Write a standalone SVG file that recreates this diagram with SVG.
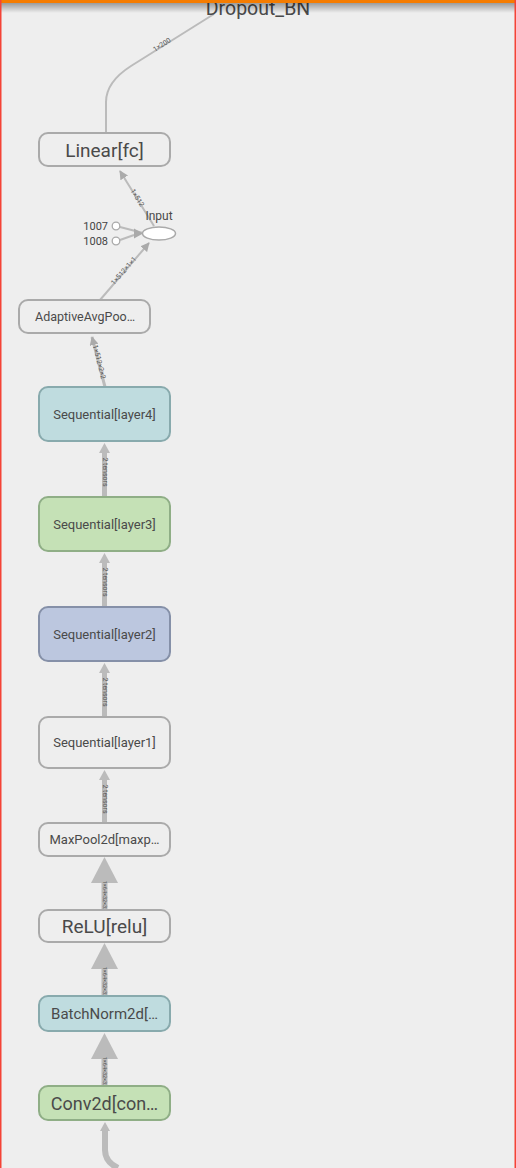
<svg xmlns="http://www.w3.org/2000/svg" width="516" height="1168" viewBox="0 0 516 1168">
<defs>
<style>
.bg{fill:#eeeeee}
.node{stroke-width:2}
.plain{fill:#eeeeee;stroke:#aaaaaa}
.teal{fill:#bfdcdf;stroke:#88aaad}
.green{fill:#c5e1b6;stroke:#8fae86}
.blue{fill:#bcc7df;stroke:#8590a8}
.t{font-family:Roboto,"Liberation Sans",sans-serif;fill:#4a4a4a;text-anchor:middle}
.el{font-family:Roboto,"Liberation Sans",sans-serif;fill:#555;font-size:7px;text-anchor:middle;dominant-baseline:central}
.els{font-size:5.5px}
.thin{fill:none;stroke:#bbbbbb;stroke-width:2}
.mid{fill:none;stroke:#bbbbbb;stroke-width:5}
.thick{fill:none;stroke:#bbbbbb;stroke-width:6}
.head{fill:#bbbbbb}
</style>
<linearGradient id="sh" x1="0" y1="0" x2="0" y2="1">
<stop offset="0" stop-color="#000" stop-opacity="0.35"/>
<stop offset="1" stop-color="#000" stop-opacity="0"/>
</linearGradient>
<marker id="ah" viewBox="0 0 10 10" refX="9" refY="5" markerWidth="9" markerHeight="9" markerUnits="userSpaceOnUse" orient="auto">
<path d="M0,0 L10,5 L0,10 z" fill="#aaaaaa"/>
</marker>
</defs>
<rect class="bg" x="0" y="0" width="516" height="1168"/>

<g id="connectors">
<path class="thin" d="M214,14 L131,66 Q106,82 106,102 L106,133"/>
<text class="el" transform="translate(162,45) rotate(-33)">1×200</text>
<path class="thin" d="M154,226 L120,171" marker-end="url(#ah)"/>
<text class="el" transform="translate(137,198) rotate(58)">1×512</text>
<path class="thin" d="M120,227 L143,233"/>
<path class="thin" d="M120,240 L134,235"/>
<path d="M134,228.5 L143,233.5 L134,238.5 z" fill="#aaaaaa"/>
<path class="thin" d="M100,300 L149,243" marker-end="url(#ah)"/>
<text class="el" transform="translate(124,271) rotate(-49)">1×512×1×1</text>
<path class="thin" d="M105,387 L92,337" marker-end="url(#ah)" style="stroke-width:3"/>
<text class="el" transform="translate(99,362) rotate(76)">1×512×2×2</text>
<path class="mid" d="M104.5,497 L104.5,452"/>
<path class="head" d="M99,453 L104.5,443 L110,453 z"/>
<text class="el" transform="translate(104.5,472) rotate(90)">2 tensors</text>
<path class="mid" d="M104.5,607 L104.5,562"/>
<path class="head" d="M99,563 L104.5,553 L110,563 z"/>
<text class="el" transform="translate(104.5,582) rotate(90)">2 tensors</text>
<path class="mid" d="M104.5,717 L104.5,672"/>
<path class="head" d="M99,673 L104.5,663 L110,673 z"/>
<text class="el" transform="translate(104.5,692) rotate(90)">2 tensors</text>
<path class="mid" d="M104.5,823 L104.5,779"/>
<path class="head" d="M99,780 L104.5,770 L110,780 z"/>
<text class="el" transform="translate(104.5,799) rotate(90)">2 tensors</text>
<path class="thick" d="M104.5,910 L104.5,880"/>
<path class="head" d="M91,883 L104.5,857 L118,883 z"/>
<text class="el els" transform="translate(104.5,896) rotate(90)">1×64×32×32</text>
<path class="thick" d="M104.5,996 L104.5,966"/>
<path class="head" d="M91,969 L104.5,943 L118,969 z"/>
<text class="el els" transform="translate(104.5,982) rotate(90)">1×64×32×32</text>
<path class="thick" d="M104.5,1086 L104.5,1056"/>
<path class="head" d="M91,1059 L104.5,1033 L118,1059 z"/>
<text class="el els" transform="translate(104.5,1072) rotate(90)">1×64×32×32</text>
<path class="thick" d="M105,1130 L105,1150 Q105,1162 118,1168"/>
<path class="head" d="M100,1131 L105,1122 L110,1131 z"/>
</g>

<g id="Linear_fc">
<rect class="node plain" x="39" y="133" width="131" height="33" rx="9"/>
<text class="t" x="104.5" y="156.5" font-size="19">Linear[fc]</text>
</g>
<g id="Input">
<ellipse cx="159" cy="233.5" rx="16.5" ry="6.5" fill="#ffffff" stroke="#aaaaaa" stroke-width="1.5"/>
<text class="t" x="159" y="220" font-size="12">Input</text>
</g>
<g id="c1007">
<circle cx="116" cy="226" r="3.8" fill="#ffffff" stroke="#aaaaaa" stroke-width="1.3"/>
<text x="108" y="230" font-size="11" font-family="Roboto,'Liberation Sans',sans-serif" fill="#444" text-anchor="end">1007</text>
</g>
<g id="c1008">
<circle cx="116" cy="241" r="3.8" fill="#ffffff" stroke="#aaaaaa" stroke-width="1.3"/>
<text x="108" y="245" font-size="11" font-family="Roboto,'Liberation Sans',sans-serif" fill="#444" text-anchor="end">1008</text>
</g>
<g id="AdaptiveAvgPool">
<rect class="node plain" x="19" y="300" width="131" height="33" rx="9"/>
<text class="t" x="85" y="321" font-size="12.5">AdaptiveAvgPoo…</text>
</g>
<g id="layer4">
<rect class="node teal" x="39" y="387" width="131" height="54" rx="9"/>
<text class="t" x="104.5" y="418.5" font-size="13">Sequential[layer4]</text>
</g>
<g id="layer3">
<rect class="node green" x="39" y="497" width="131" height="54" rx="9"/>
<text class="t" x="104.5" y="528.5" font-size="13">Sequential[layer3]</text>
</g>
<g id="layer2">
<rect class="node blue" x="39" y="607" width="131" height="54" rx="9"/>
<text class="t" x="104.5" y="638.5" font-size="13">Sequential[layer2]</text>
</g>
<g id="layer1">
<rect class="node plain" x="39" y="717" width="131" height="51" rx="9"/>
<text class="t" x="104.5" y="747" font-size="13">Sequential[layer1]</text>
</g>
<g id="MaxPool">
<rect class="node plain" x="39" y="823" width="131" height="33" rx="9"/>
<text class="t" x="104.5" y="844" font-size="13">MaxPool2d[maxp…</text>
</g>
<g id="ReLU">
<rect class="node plain" x="39" y="910" width="131" height="32" rx="9"/>
<text class="t" x="104.5" y="933" font-size="19">ReLU[relu]</text>
</g>
<g id="BatchNorm">
<rect class="node teal" x="39" y="996" width="131" height="35" rx="9"/>
<text class="t" x="104.5" y="1019" font-size="15">BatchNorm2d[…</text>
</g>
<g id="Conv">
<rect class="node green" x="39" y="1086" width="131" height="34" rx="9"/>
<text class="t" x="104.5" y="1110" font-size="18">Conv2d[con…</text>
</g>

<g id="Dropout_BN">
<text class="t" x="258" y="15" font-size="19.5">Dropout_BN</text>
</g>

<g id="frame">
<rect x="0" y="3" width="516" height="10" fill="url(#sh)"/>
<rect x="0" y="0" width="516" height="3" fill="#f57c00"/>
<rect x="0" y="0" width="1.5" height="1168" fill="#f44336"/>
<rect x="514.5" y="0" width="1.5" height="1168" fill="#f44336"/>
</g>
</svg>
